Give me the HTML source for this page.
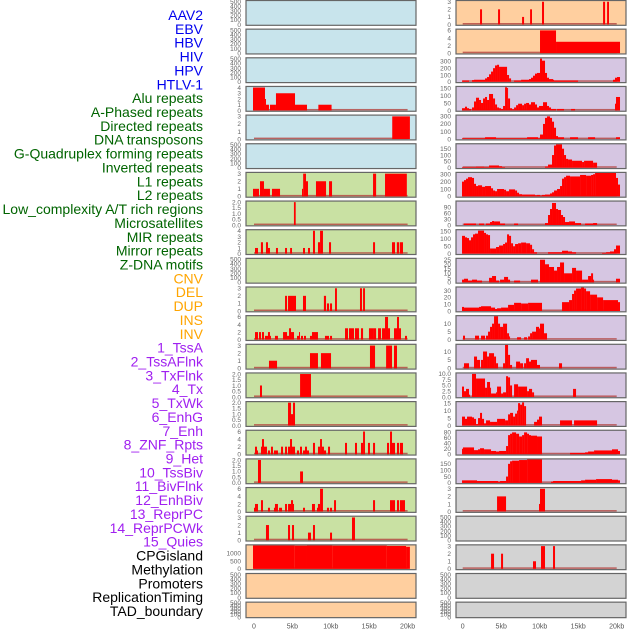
<!DOCTYPE html>
<html><head><meta charset="utf-8">
<style>
html,body{margin:0;padding:0;background:#fff;}
svg{display:block;font-family:"Liberation Sans",sans-serif;}
</style></head>
<body>
<svg id="chart" width="630" height="630" viewBox="0 0 630 630" xmlns="http://www.w3.org/2000/svg"></svg>
<script>
// ---- labels ----
const labels = ["AAV2","EBV","HBV","HIV","HPV","HTLV-1","Alu repeats","A-Phased repeats","Directed repeats","DNA transposons","G-Quadruplex forming repeats","Inverted repeats","L1 repeats","L2 repeats","Low_complexity A/T rich regions","Microsatellites","MIR repeats","Mirror repeats","Z-DNA motifs","CNV","DEL","DUP","INS","INV","1_TssA","2_TssAFlnk","3_TxFlnk","4_Tx","5_TxWk","6_EnhG","7_Enh","8_ZNF_Rpts","9_Het","10_TssBiv","11_BivFlnk","12_EnhBiv","13_ReprPC","14_ReprPCWk","15_Quies","CPGisland","Methylation","Promoters","ReplicationTiming","TAD_boundary"];
const labelGroups = [6,13,5,15,5];
const groupColors = ["#0000ee","#006400","#ffa500","#a020f0","#000000"];
const bgLeft = ["#c8e4ec","#c8e4ec","#c8e4ec","#c8e4ec","#c8e4ec","#c8e4ec","#c9e1a3","#c9e1a3","#c9e1a3","#c9e1a3","#c9e1a3","#c9e1a3","#c9e1a3","#c9e1a3","#c9e1a3","#c9e1a3","#c9e1a3","#c9e1a3","#c9e1a3","#ffcf9f","#ffcf9f","#ffcf9f"];
const bgRight = ["#ffcf9f","#ffcf9f","#d6c6e2","#d6c6e2","#d6c6e2","#d6c6e2","#d6c6e2","#d6c6e2","#d6c6e2","#d6c6e2","#d6c6e2","#d6c6e2","#d6c6e2","#d6c6e2","#d6c6e2","#d6c6e2","#d6c6e2","#d3d3d3","#d3d3d3","#d3d3d3","#d3d3d3","#d3d3d3"];
const xTicks = [0,5,10,15,20];
const xTickLabels = ["0","5kb","10kb","15kb","20kb"];

// ---- segment data: [startKb, endKb, value] ----
const E = null;
const L3 = [[-0.13,1.43,4],[1.43,1.56,2],[1.56,1.95,1],[2.08,2.86,1],[2.86,5.34,3],[5.34,6.9,1],[8.38,10.1,1]];
const L4 = [[18.0,20.3,3]];
const L6 = [[-0.13,0.65,1],[0.78,1.3,2],[1.3,2.08,1],[2.34,3.39,1],[6.25,6.4,1],[6.4,6.77,3],[6.77,7.03,2],[8.07,9.38,2],[9.77,10.16,2],[15.5,15.9,3],[17.06,19.9,3]];
const L7 = [[5.2,5.43,2]];
const L8 = [[0.13,0.52,1],[0.9,1.17,2],[1.56,1.82,2],[1.82,2.08,1],[2.86,3.12,1],[4.04,4.3,1],[4.7,4.95,1],[6.38,6.64,1],[7.03,7.29,1],[7.68,7.94,4],[8.33,8.6,2],[8.6,8.98,4],[9.77,10.03,2],[15.5,15.76,2],[17.97,18.36,2],[18.6,18.9,2],[19.0,19.4,2]];
const L10 = [[4.04,4.3,2],[4.43,5.47,2],[6.38,6.77,2],[9.1,9.38,2],[9.5,9.77,1],[9.9,10.16,1],[10.55,10.8,3],[13.8,14.06,3],[14.2,14.45,3]];
const L11 = [[0.13,0.52,2],[0.65,0.91,2],[1.04,1.3,2],[1.43,1.82,1],[1.82,2.08,2],[2.08,2.21,1],[2.73,3.12,1],[3.78,4.3,2],[4.3,4.56,1],[4.56,4.82,3],[4.82,5.21,2],[5.6,5.86,1],[5.86,5.99,2],[6.12,6.38,1],[6.51,6.77,1],[7.29,7.55,1],[7.55,8.33,2],[9.24,9.77,1],[9.9,10.16,1],[11.85,12.24,3],[12.37,13.02,3],[13.15,13.67,3],[13.93,14.2,3],[14.97,15.5,3],[15.5,15.9,3],[16.15,16.54,3],[16.67,17.06,3],[17.06,17.45,6],[17.45,17.71,3],[18.23,18.62,3],[18.62,18.88,6],[18.88,19.14,3],[19.66,19.92,1]];
const L12 = [[1.95,3.0,1],[7.29,8.33,2],[8.72,10.03,2],[15.1,15.76,3],[17.2,17.97,3],[18.23,18.62,3]];
const L13 = [[0.78,1.04,1],[6.0,7.42,2]];
const L14 = [[4.43,4.82,2],[4.82,5.08,1],[5.08,5.34,2]];
const L15 = [[0.13,0.39,2],[0.39,0.52,1],[0.91,1.04,2],[1.04,1.3,4],[1.3,1.69,2],[1.82,2.08,1],[2.21,2.47,2],[2.6,3.12,1],[3.52,3.78,2],[4.04,4.3,2],[4.43,4.69,2],[4.69,4.95,4],[4.95,5.34,2],[5.6,5.86,1],[5.99,6.25,2],[6.38,6.64,1],[6.64,6.9,2],[6.9,7.16,1],[7.68,7.94,3],[8.33,8.6,2],[8.6,8.85,4],[8.85,9.11,2],[9.11,9.38,1],[9.64,9.9,2],[11.85,12.11,3],[13.15,13.41,3],[13.93,14.2,3],[14.2,14.45,6],[14.84,15.1,3],[15.5,15.76,3],[17.32,17.58,3],[17.71,17.97,6],[17.97,18.36,3],[18.62,18.88,3],[19.0,19.4,3]];
const L16 = [[0.52,0.91,2],[6.0,6.38,1]];
const L17 = [[0,0.26,1],[0.13,0.52,2],[0.91,1.17,3],[1.82,2.08,1],[2.6,2.86,1],[2.73,3.12,2],[3.26,3.65,1],[4.04,4.3,2],[4.43,4.82,2],[4.82,5.08,3],[5.08,5.21,2],[6.38,6.64,1],[7.55,7.94,2],[8.2,8.46,1],[8.33,8.6,2],[8.6,8.98,6],[9.5,9.77,1],[9.9,10.16,1],[10.42,10.68,3],[15.5,15.76,3],[17.71,17.97,3],[17.97,18.36,3],[18.62,18.88,3],[19.0,19.66,3]];
const L18 = [[1.56,1.95,2],[4.43,4.69,2],[4.95,5.21,2],[7.03,7.42,1],[7.68,7.94,2],[9.9,10.16,1],[12.76,13.15,3]];
const L19 = [[-0.13,5.3,1480],[5.3,6.9,1470],[6.9,10.2,1480],[10.2,17.3,1470],[17.3,19.8,1450],[19.8,20.3,1400]];

const R0 = [[2.25,2.51,2],[4.59,4.85,2],[7.71,7.97,1],[8.75,9.0,2],[10.3,10.56,3],[18.23,18.49,3],[18.75,19.0,3]];
const R1 = [[10.04,12.12,6],[12.12,20.43,3]];
const R2 = [[-0.09,0.82,20],[1.21,1.47,25],[1.47,2.9,30],[2.9,3.16,50],[3.16,3.42,70],[3.42,3.68,110],[3.68,3.94,150],[3.94,4.2,200],[4.2,4.46,240],[4.46,4.72,250],[4.72,5.76,220],[5.76,6.02,100],[6.02,6.28,50],[6.67,7.58,20],[7.58,8.61,30],[8.61,8.87,40],[8.87,9.13,60],[9.13,9.39,90],[9.39,9.65,120],[9.65,10.04,130],[10.04,10.3,340],[10.3,10.69,310],[10.69,10.95,130],[10.95,11.21,60],[11.21,11.73,40],[11.73,11.86,30],[11.86,14.98,20],[19.52,19.78,30],[19.78,20.04,60],[20.04,20.43,70]];
const R3 = [[-0.09,0.3,15],[0.3,0.56,25],[0.56,0.82,15],[0.82,1.08,10],[1.21,1.47,20],[1.47,1.73,60],[1.73,2.12,85],[2.12,2.38,70],[2.38,2.64,50],[2.64,2.9,80],[2.9,3.16,90],[3.16,3.42,70],[3.42,3.94,110],[3.94,4.2,80],[4.2,4.46,40],[4.46,4.72,20],[4.72,4.98,15],[4.98,5.24,10],[5.24,5.5,30],[5.5,5.76,155],[5.76,5.89,150],[5.89,6.15,80],[6.15,6.41,15],[6.41,6.67,8],[6.67,6.93,20],[6.93,7.19,35],[7.19,7.71,45],[7.71,7.97,35],[7.97,8.23,45],[8.23,8.61,50],[8.61,8.87,40],[8.87,9.39,55],[9.39,9.65,40],[9.65,9.91,20],[9.91,10.43,30],[10.43,10.95,55],[10.95,11.21,30],[11.21,11.47,20],[11.47,12.12,10],[12.25,13.16,10],[14.07,14.59,10],[19.78,20.04,45],[19.91,20.43,90]];
const R4 = [[-0.09,2.9,10],[2.9,4.33,25],[4.33,8.36,10],[8.36,9.78,25],[9.78,10.04,10],[10.04,10.43,60],[10.43,10.69,200],[10.69,10.95,280],[10.95,11.34,300],[11.34,11.6,280],[11.6,11.86,230],[11.86,12.12,150],[12.12,12.38,40],[12.38,13.16,25],[13.94,14.98,25],[16.28,17.19,25],[19.91,20.43,25]];
const R5 = [[-0.09,1.73,5],[1.73,2.77,8],[2.77,3.42,5],[3.42,4.72,18],[4.72,5.11,12],[5.11,5.5,5],[10.69,11.08,10],[11.08,11.6,25],[11.6,11.86,100],[11.86,12.12,175],[12.12,12.9,185],[12.9,13.16,150],[13.16,13.42,100],[13.42,13.68,70],[13.68,14.2,65],[14.2,15.5,55],[15.5,15.76,45],[15.76,16.93,55],[16.93,17.45,40]];
const R6 = [[-0.09,0.17,200],[0.17,0.43,220],[0.43,0.69,240],[0.69,1.21,260],[1.21,1.47,250],[1.47,1.73,170],[1.73,1.99,140],[1.99,2.51,150],[2.51,2.9,130],[2.9,3.68,140],[3.68,3.94,110],[3.94,4.2,80],[4.2,4.46,70],[4.46,5.37,100],[5.37,5.63,90],[5.63,6.02,70],[6.02,6.8,95],[6.8,7.06,80],[7.06,7.32,50],[7.32,7.71,30],[7.71,9.39,25],[9.39,9.65,15],[9.65,10.04,20],[10.04,10.3,10],[10.3,10.69,20],[10.69,11.34,25],[11.34,11.6,40],[11.6,11.86,55],[11.86,12.25,80],[12.25,12.64,100],[12.64,12.9,140],[12.9,13.16,240],[13.16,13.42,260],[13.42,13.94,280],[13.94,15.24,270],[15.24,16.02,290],[16.02,16.67,280],[16.67,16.93,290],[16.93,17.19,300],[17.19,19.91,318],[19.91,20.17,250],[20.17,20.43,160]];
const R7 = [[0.17,1.73,8],[2.12,2.77,8],[3.03,3.55,8],[3.55,3.81,15],[3.81,4.07,20],[4.07,4.85,18],[4.85,5.5,8],[6.67,7.19,8],[10.69,11.08,10],[11.08,11.34,50],[11.34,11.6,80],[11.6,12.12,110],[12.12,12.38,80],[12.38,12.77,75],[12.77,13.03,50],[13.03,13.29,40],[13.29,13.81,15],[13.81,14.59,18],[14.59,15.37,10],[15.89,16.93,8],[16.93,17.45,10]];
const R8 = [[-0.09,0.3,120],[0.3,0.56,110],[0.56,0.82,105],[0.82,1.08,90],[1.08,1.34,110],[1.34,1.6,130],[1.6,1.99,135],[1.99,2.77,155],[2.77,3.03,140],[3.03,3.29,130],[3.29,3.55,125],[3.55,4.33,35],[4.33,4.72,45],[4.72,5.24,55],[5.24,5.5,65],[5.5,5.76,75],[5.76,6.02,130],[6.02,6.28,120],[6.28,6.54,70],[6.54,6.8,50],[6.8,7.19,65],[7.19,7.58,70],[7.58,8.23,75],[8.23,8.75,70],[8.75,9.01,60],[9.01,9.27,30],[9.27,9.65,10],[11.08,12.9,10],[12.9,13.68,20],[13.68,14.2,15],[14.2,14.72,10],[18.1,18.62,5],[18.62,19.13,10],[19.13,19.65,15],[19.65,19.91,30],[19.91,20.43,55]];
const R9 = [[-0.09,0.17,3],[0.17,0.69,4],[0.69,1.21,2],[1.21,1.86,3],[1.86,2.51,2],[3.42,3.81,5],[3.81,4.33,7],[4.33,4.72,2],[4.85,5.37,3],[5.37,5.89,6],[5.89,6.15,3],[6.67,7.45,2],[8.87,9.78,3],[10.04,10.69,25],[10.69,11.21,20],[11.21,11.86,17],[11.86,12.25,13],[12.25,12.64,17],[12.64,13.16,22],[13.16,14.2,10],[14.2,14.72,16],[14.72,15.5,13],[15.5,16.28,3],[16.28,16.67,7],[16.67,16.93,10],[16.93,17.06,3],[19.91,20.43,4]];
const R10 = [[-0.09,0.17,6],[0.17,2.12,5],[2.12,2.38,6],[2.38,3.68,7],[3.68,4.2,5],[4.2,4.46,3],[4.46,4.98,4],[4.98,5.89,5],[5.89,6.67,9],[6.67,7.58,12],[7.58,8.49,11],[8.49,10.3,12],[12.9,13.81,13],[13.81,14.2,16],[14.2,14.46,25],[14.46,14.72,30],[14.72,15.37,33],[15.37,15.76,35],[15.76,16.02,33],[16.02,16.54,29],[16.54,17.45,24],[17.45,18.23,20],[18.23,20.17,16],[20.17,20.43,13]];
const R11 = [[0.04,0.3,2.5],[1.6,2.12,2.5],[2.38,2.9,2.5],[3.03,3.29,2.5],[3.29,3.55,5],[3.55,3.81,8],[3.81,4.07,10],[4.07,4.59,15],[4.59,4.85,10],[4.85,5.24,8],[5.24,5.76,10],[5.76,6.02,4],[6.02,6.15,2],[7.06,7.58,1.5],[7.97,8.36,1.5],[8.49,8.75,2],[8.75,9.01,4],[9.01,9.52,5],[9.52,9.91,8],[9.91,10.04,7],[10.04,10.56,10],[10.56,10.95,4]];
const R12 = [[0.17,0.82,3],[1.47,1.86,7],[1.86,2.25,5],[2.38,2.64,5],[2.64,3.16,10],[3.16,3.42,7],[3.42,4.07,9],[4.07,4.33,7],[4.33,4.59,3],[5.24,5.5,3],[5.5,5.89,14],[5.89,6.15,8],[6.15,6.41,2],[6.93,7.45,4],[7.45,7.84,3],[7.97,8.23,3],[8.23,8.61,6],[8.61,8.87,4],[8.87,9.65,5],[9.65,10.04,2],[12.51,12.9,3]];
const R13 = [[-0.09,0.17,4.5],[0.17,0.43,2.5],[0.43,0.82,3.5],[0.82,0.95,1],[1.21,1.73,10],[1.73,2.9,8],[2.9,3.16,4],[3.16,3.55,6.5],[3.55,3.68,4],[3.68,4.33,1.5],[4.33,4.46,2],[4.46,4.98,4.5],[4.98,5.24,1.5],[5.24,5.63,2],[5.63,5.89,9],[5.89,6.15,8.5],[6.15,6.41,5],[6.67,7.19,5.5],[7.19,8.36,4.5],[8.36,8.61,2.5],[8.61,9.01,3.5],[9.01,9.27,2],[14.33,14.72,3.5]];
const R14 = [[-0.09,0.3,6],[0.3,0.56,4.5],[0.56,1.21,6],[1.21,1.47,5.5],[1.47,1.73,4.5],[1.73,1.99,1],[1.99,2.25,5],[2.25,2.51,8.5],[2.51,2.77,4.5],[2.77,3.03,1.5],[3.03,3.55,3.5],[3.55,4.46,2.5],[4.46,5.5,4.5],[5.5,5.89,3.5],[5.89,6.15,7.5],[6.15,6.54,8.5],[6.54,6.8,6],[6.8,7.06,8],[7.06,7.19,10],[7.19,7.45,15],[7.45,7.71,14],[7.71,7.97,15.5],[7.97,8.23,13],[9.27,9.65,2.5],[9.65,9.91,4],[9.91,10.3,6],[12.64,14.2,3.5],[14.46,17.45,3.5]];
const R15 = [[-0.09,0.04,20],[0.04,1.47,25],[1.47,1.99,15],[1.99,2.25,18],[2.25,2.77,22],[2.77,3.68,18],[3.68,4.33,12],[4.33,4.72,10],[4.72,5.63,12],[5.63,5.89,30],[5.89,6.15,70],[6.15,6.41,75],[6.41,6.93,80],[6.93,7.32,75],[7.32,7.71,65],[7.71,7.97,70],[7.97,8.36,80],[8.36,8.61,75],[8.61,8.87,70],[8.87,9.65,68],[9.65,10.3,65],[13.94,15.89,5],[15.89,16.28,7],[16.28,17.06,10],[17.06,19.39,14],[19.39,20.17,18],[20.17,20.43,12]];
const R16 = [[-0.09,1.86,20],[1.86,4.59,15],[4.59,4.85,10],[4.85,5.63,15],[5.63,5.89,50],[5.89,6.15,150],[6.15,6.41,170],[6.41,7.32,175],[7.32,8.36,180],[8.36,10.3,185],[11.47,11.73,10],[11.73,15.37,15],[15.37,15.89,20],[15.89,17.32,25],[17.32,19.39,30],[19.39,20.17,25],[20.17,20.43,20]];
const R17 = [[4.46,5.63,2],[9.91,10.17,1],[10.04,10.69,3]];
const R19 = [[3.68,4.07,2],[4.98,5.24,2],[9.13,9.52,1],[10.17,10.69,3],[11.73,11.99,3]];

const leftSeries = [E,E,E,L3,L4,E,L6,L7,L8,E,L10,L11,L12,L13,L14,L15,L16,L17,L18,L19,E,E];
const rightSeries = [R0,R1,R2,R3,R4,R5,R6,R7,R8,R9,R10,R11,R12,R13,R14,R15,R16,R17,E,R19,E,E];
const leftYMax = [510,510,510,4.1,3.1,510,3.1,2.05,4.1,510,3.1,6.2,3.1,2.05,2.05,6.2,2.05,6.2,3.1,1490,510,510];
const rightYMax = [3.1,6.2,345,157,310,185,318,117,158,26,34.5,14.7,14,10.2,15.7,86,185,3.1,510,3.1,510,510];
const T500=[0,100,200,300,400,500], T3=[0,1,2,3], T4=[0,1,2,3,4], T2=[0,0.5,1,1.5,2], T6=[0,2,4,6];
const leftTicks = [T500,T500,T500,T4,T3,T500,T3,T2,T4,T500,T3,T6,T3,T2,T2,T6,T2,T6,T3,[0,500,1000],T500,T500];
const rightTicks = [T3,T6,[0,100,200,300],[0,50,100,150],[0,100,200,300],[0,50,100,150],[0,100,200,300],[0,30,60,90],[0,50,100,150],[0,5,10,15,20,25],[0,10,20,30],[0,5,10],[0,5,10],[0,2.5,5,7.5,10],[0,5,10,15],[0,20,40,60,80],[0,50,100,150],T3,T500,T3,T500,T500];

// ---- layout ----
const NS="http://www.w3.org/2000/svg";
const svg=document.getElementById('chart');
const cols=[{x0:246,x1:416,zero:254,pxkb:7.68,tickX:241,series:leftSeries,ymax:leftYMax,ticks:leftTicks,bg:bgLeft,name:'left'},
            {x0:456,x1:626,zero:462.7,pxkb:7.7,tickX:451,series:rightSeries,ymax:rightYMax,ticks:rightTicks,bg:bgRight,name:'right'}];
const ROWH=28.65;
function mk(tag,attrs){const e=document.createElementNS(NS,tag);for(const k in attrs)e.setAttribute(k,attrs[k]);return e;}
function fmt(t,ticks){const dec=ticks.some(v=>v%1!==0);return dec?t.toFixed(1):String(t);}

// labels
let gi=0,gcount=0;
labels.forEach((lab,i)=>{
  while(gcount>=labelGroups[gi]){gcount-=labelGroups[gi];gi++;}
  gcount++;
  const t=mk('text',{x:203,y:15+i*13.86+5,'text-anchor':'end','font-size':'14',fill:groupColors[gi]});
  
  
  t.textContent=lab;svg.appendChild(t);
});

cols.forEach(c=>{
  for(let r=0;r<22;r++){
    const top=r*ROWH+0.5;
    const last=(r===21);
    const h=last?15.5:24.8;
    const y0=top+(last?15:24);
    const plotH=last?14.5:23.5;
    const ymax=c.ymax[r];
    const ys=v=>y0-(v/ymax)*plotH;
    const xs=kb=>c.zero+kb*c.pxkb;
    const g=mk('g',{});
    
    
    const bg=mk('rect',{x:c.x0,y:top,width:c.x1-c.x0,height:h,fill:c.bg[r]});
    
    
    g.appendChild(bg);
    const data=c.series[r];
    if(data){
      const bl=mk('rect',{x:xs(0),y:y0-1.5,width:xs(20)-xs(0),height:1.5,fill:'#b4423f',opacity:'0.8'});
      
      
      g.appendChild(bl);
      data.forEach(d=>{
        const x1=Math.max(xs(d[0]),c.x0+1),x2=Math.min(xs(d[1]),c.x1-1);
        const yt=Math.max(ys(d[2]),top+0.5);
        const b=mk('rect',{x:x1,y:yt,width:Math.max(x2-x1,0.8),height:y0-yt,fill:'#ff0000'});
        
        
        g.appendChild(b);
      });
    }
    const br=mk('rect',{x:c.x0,y:top,width:c.x1-c.x0,height:h,fill:'none',stroke:'#666','stroke-width':'1.2'});
    
    
    g.appendChild(br);
    c.ticks[r].forEach(t=>{
      const tt=mk('text',{x:c.tickX,y:ys(t)+2.3,'text-anchor':'end','font-size':'6.5',fill:'#666'});
      
      
      tt.textContent=fmt(t,c.ticks[r]);g.appendChild(tt);
    });
    svg.appendChild(g);
  }
  xTicks.forEach((k,i)=>{
    const t=mk('text',{x:c.zero+k*c.pxkb,y:628.5,'text-anchor':'middle','font-size':'7',fill:'#555'});
    
    
    t.textContent=xTickLabels[i];svg.appendChild(t);
  });
});
</script>
</body></html>
